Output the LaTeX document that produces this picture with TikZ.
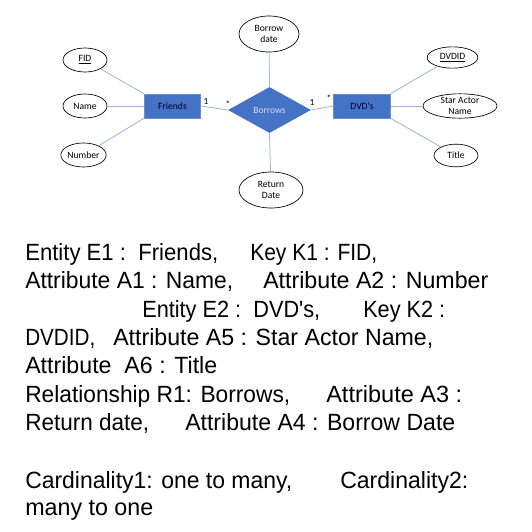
\documentclass[tikz,border=0pt]{standalone}
\usepackage{fontspec}
\setmainfont{Liberation Sans}
\newfontfamily\diagfont{Carlito}
\usetikzlibrary{shapes.geometric}
\definecolor{entblue}{HTML}{4472C4}
\definecolor{entedge}{HTML}{6A8FD0}
\definecolor{linkc}{HTML}{9DB3D9}
\newcommand{\fitw}[2]{\resizebox{#1pt}{\height}{#2}}
\tikzset{
  attr/.style={ellipse, draw=black, line width=0.5pt, fill=white, inner sep=0pt, font=\diagfont\fontsize{7.2}{8.2}\selectfont, align=center},
  ent/.style={rectangle, draw=entedge, line width=0.6pt, fill=entblue, inner sep=0pt, minimum width=42.5pt, minimum height=18pt, font=\diagfont\fontsize{7.2}{8.2}\selectfont, text=black!85!blue},
  rel/.style={diamond, fill=entblue, inner sep=0pt, aspect=1.8, font=\diagfont\fontsize{7.2}{8.2}\selectfont, text=white!85!blue},
  link/.style={draw=linkc, line width=0.6pt},
  card/.style={font=\diagfont\fontsize{7}{8}\selectfont, inner sep=0pt},
  body/.style={anchor=base west, inner sep=0pt, font=\fontsize{17.6}{21}\selectfont}
}
\begin{document}
\begin{tikzpicture}[x=0.75pt,y=-0.75pt]
\useasboundingbox (0,0) rectangle (532,532);
% entities
\node[ent] (fr) at (172.5,106) {Friends};
\node[ent] (dvd) at (362,106) {DVD's};
\node[rel, minimum width=62.25pt, minimum height=34.5pt] (bor) at (269.5,110) {Borrows};
% attributes
\node[attr, minimum width=33pt, minimum height=18pt] (fid) at (85,60) {\underline{FID}};
\node[attr, minimum width=33pt, minimum height=18pt] (name) at (85,106) {Name};
\node[attr, minimum width=34pt, minimum height=18pt] (num) at (83.5,155) {Number};
\node[attr, minimum width=38pt, minimum height=16pt] (dvdid) at (452.5,57.5) {\underline{DVDID}};
\node[attr, minimum width=55.5pt, minimum height=18pt] (star) at (460,106) {Star Actor\\Name};
\node[attr, minimum width=33pt, minimum height=17pt] (title) at (456,155.5) {Title};
\node[attr, minimum width=45pt, minimum height=27pt] (bdate) at (269,34) {Borrow\\date};
\node[attr, minimum width=48pt, minimum height=27pt] (rdate) at (271,190) {Return\\Date};
% connectors
\draw[link] (fid) -- (fr.north west);
\draw[link] (name) -- (fr.west);
\draw[link] (num) -- (fr.south west);
\draw[link] (dvdid) -- (dvd.north east);
\draw[link] (star) -- (dvd.east);
\draw[link] (title) -- (dvd.south east);
\draw[link] (fr.east) -- (bor.west);
\draw[link] (bor.east) -- (dvd.west);
\draw[link] (bdate) -- (bor.north);
\draw[link] (bor.south) -- (rdate);
% cardinalities
\node[card] (c1) at (206,101) {1};
\node[card] (c2) at (228,104) {*};
\node[card] (c3) at (312,102) {1};
\node[card] (c4) at (329,98.5) {*};
% body text
\node[body] (t1a) at (25,260) {\fitw{144.75}{Entity E1 :\ \ Friends,}};
\node[body] (t1b) at (250,260) {\fitw{95.25}{Key K1 : FID,}};
\node[body] (t2a) at (25,288) {\fitw{156}{Attribute A1 : Name,}};
\node[body] (t2b) at (263,288) {\fitw{168.75}{Attribute A2 : Number}};
\node[body] (t3a) at (142,317) {\fitw{133.5}{Entity E2 :\ \ DVD\textquotesingle s,}};
\node[body] (t3b) at (363,317) {\fitw{61.5}{Key K2 :}};
\node[body] (t4a) at (25,345) {\fitw{52.5}{DVDID,}};
\node[body] (t4b) at (113,345) {\fitw{240}{Attribute A5 : Star Actor Name,}};
\node[body] (t5a) at (25,373) {\fitw{144}{Attribute\ \ A6 : Title}};
\node[body] (t6a) at (25,402) {\fitw{198.75}{Relationship R1: Borrows,}};
\node[body] (t6b) at (326,402) {\fitw{102}{Attribute A3 :}};
\node[body] (t7a) at (25,430) {\fitw{93}{Return date,}};
\node[body] (t7b) at (185,430) {\fitw{202.5}{Attribute A4 : Borrow Date}};
\node[body] (t8a) at (25,488) {\fitw{200.25}{Cardinality1: one to many,}};
\node[body] (t8b) at (340,488) {\fitw{96}{Cardinality2:}};
\node[body] (t9a) at (25,515) {\fitw{96}{many to one}};
\end{tikzpicture}
\end{document}
